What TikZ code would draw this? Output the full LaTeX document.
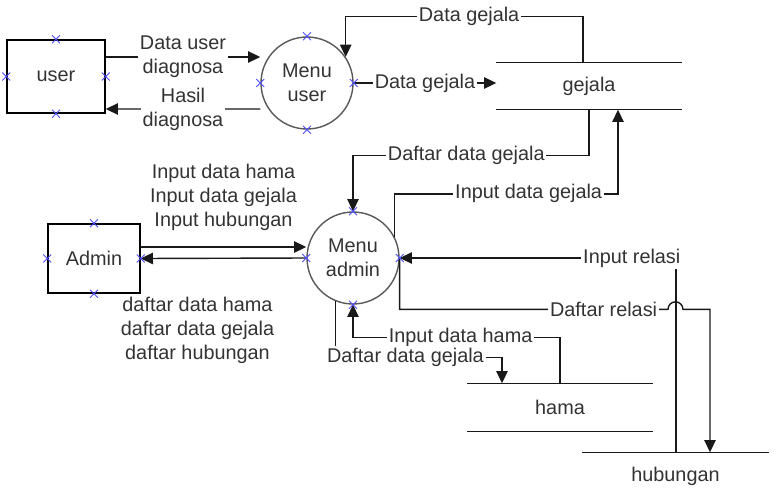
\documentclass[tikz,border=0pt]{standalone}
\usepackage{fontspec}
\setmainfont{Liberation Sans}
\usetikzlibrary{arrows.meta,shapes.misc,calc,positioning}

\begin{document}
\begin{tikzpicture}[x=0.02cm,y=-0.02cm,
  ->,>={Triangle[length=7pt,width=6.5pt]},line width=0.8pt,draw=black!90,
  font=\fontsize{11.3}{13.6}\selectfont,
  ent/.style={rectangle, draw=black, minimum width=1.96cm, minimum height=1.46cm, text=black!80},
  proc/.style={circle, draw=black!65, minimum size=1.84cm, align=center, inner sep=0pt, text=black!80},
  store/.style={minimum width=3.68cm, minimum height=0.92cm, text=black!80},
  lbl/.style={fill=white, inner sep=1pt, align=center, text=black!80}]
  \tikzstyle{xmark}=[cross out, draw=blue!70!white, minimum size=4pt, inner sep=0pt, line width=0.5pt]
  \useasboundingbox (0,0) rectangle (778,494);

  \node[ent]                                (user)     at (56,76.5)  {user};
  \node[proc]                               (muser)    at (307,83)   {Menu\\user};
  \node[store]                              (gejala)   at (589,86)   {gejala};
  \node[ent,minimum width=1.84cm,minimum height=1.38cm] (admin) at (94,258.5) {Admin};
  \node[proc]                               (madmin)   at (353,258)  {Menu\\admin};
  \node[store,minimum height=0.94cm]        (hama)     at (560,407.5) {hama};
  \node[store,minimum width=3.7cm]          (hubungan) at (675.5,476) {hubungan};

  \draw[-] (gejala.north west) -- (gejala.north east) (gejala.south west) -- (gejala.south east);
  \draw[-] (hama.north west) -- (hama.north east) (hama.south west) -- (hama.south east);
  \draw[-] (hubungan.north west) -- (hubungan.north east);

  \draw ($(user.east)+(0,-19.5)$) -- node[lbl]{Data user\\diagnosa} ($(muser.west)+(0,-26)$);
  \draw ($(muser.west)+(0,26)$) -- node[lbl]{Hasil\\diagnosa} ($(user.east)+(0,32.5)$);
  \draw (muser.east) -- node[lbl]{Data gejala} (muser.east -| gejala.west);
  \draw ($(gejala.north)+(-6,0)$) -- ++(0,-46) -| node[lbl,pos=0.24]{Data gejala} (muser.34);

  \draw (gejala.south) -- ++(0,46) -| node[lbl,pos=0.26]{Daftar data gejala} (madmin.north);
  \draw (madmin.27) -- ++(0,-43) -| node[lbl,pos=0.3]{Input data gejala} ($(gejala.south)+(29,0)$);

  \draw ($(admin.east)+(0,-11.5)$) -- node[midway,yshift=1cm,align=center,text=black!80]
    {Input data hama\\Input data gejala\\Input hubungan} ($(madmin.west)+(0,-11)$);
  \draw (madmin.west) -- node[midway,yshift=-1.44cm,xshift=-0.52cm,align=center,text=black!80]
    {daftar data hama\\daftar data gejala\\daftar hubungan} (admin.east);

  \draw ($(hubungan.north)+(0.5,0)$) |- node[lbl,pos=0.58]{Input relasi} (madmin.east);
  \draw (madmin.east) |- node[lbl,pos=0.88]{Daftar relasi} ($(hubungan.north)+(-7.5,-143)$)
    arc[start angle=180,end angle=0,radius=4.25pt] -| ($(hubungan.north)+(34.5,0)$);

  \draw (hama.north) -- ++(0,-46) -| node[lbl,pos=0.24]{Input data hama} (madmin.south);
  \draw (madmin.248) -- ++(0,56) -| node[lbl,pos=0.21]{Daftar data gejala} ($(hama.north)+(-58,0)$);

  \foreach \n in {user,muser,admin,madmin}
    \foreach \a in {north,south,east,west}
      \node[xmark] at (\n.\a) {};
\end{tikzpicture}
\end{document}
